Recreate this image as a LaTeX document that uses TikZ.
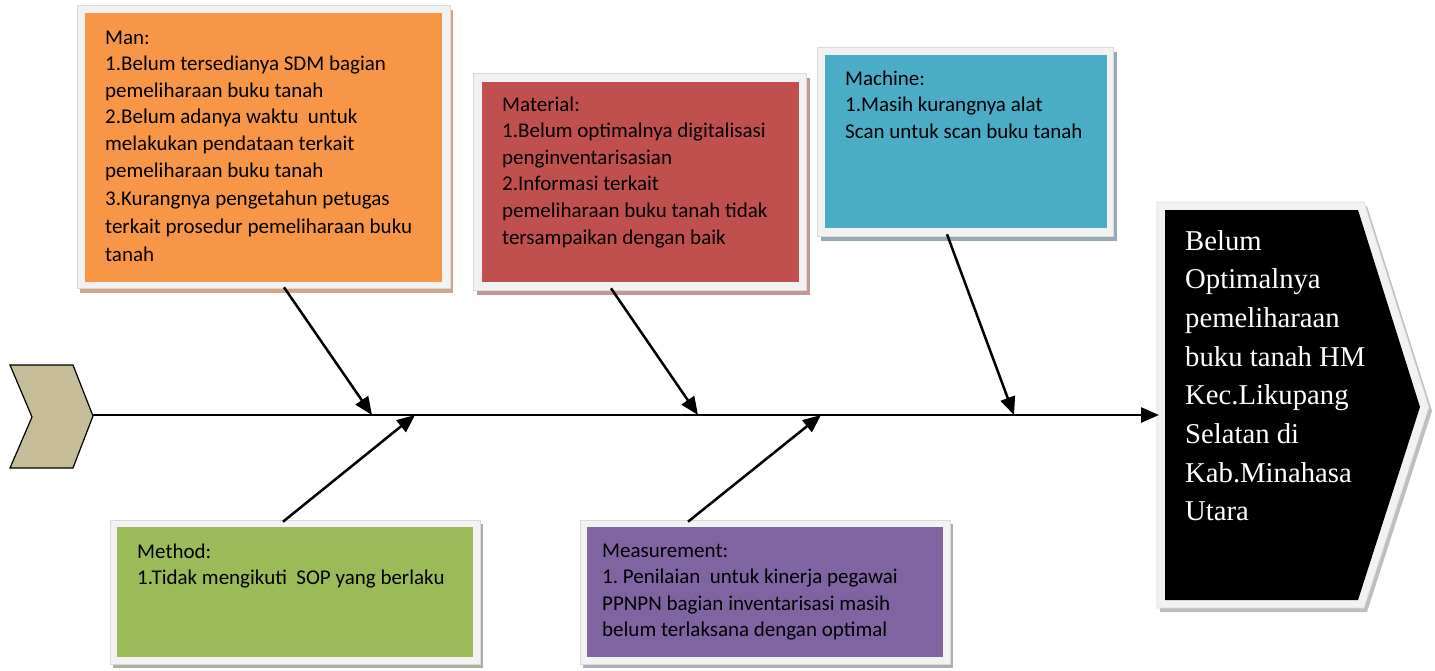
\documentclass[tikz,border=0pt]{standalone}
\usepackage{fontspec}
\usetikzlibrary{arrows.meta,shadows}
\newfontfamily\calibrifont{Carlito}
\newfontfamily\timesfont{Liberation Serif}
\frenchspacing
\definecolor{framegray}{HTML}{F2F2F2}
\definecolor{frameedge}{HTML}{DADADA}
\definecolor{manfill}{HTML}{F79646}
\definecolor{matfill}{HTML}{C0504D}
\definecolor{macfill}{HTML}{4BACC6}
\definecolor{metfill}{HTML}{9BBB59}
\definecolor{meafill}{HTML}{8064A2}
\definecolor{tailfill}{HTML}{C4BD97}
\definecolor{manshadow}{RGB}{212,166,136}
\definecolor{matshadow}{RGB}{192,152,152}
\definecolor{macshadow}{RGB}{148,170,182}
\definecolor{metshadow}{RGB}{172,176,160}
\definecolor{meashadow}{RGB}{176,172,182}
\definecolor{headshadow}{RGB}{190,190,190}
\tikzset{
  frame/.style={fill=framegray, draw=frameedge, line width=0.6pt, inner sep=0pt},
  inner/.style={inner sep=0pt, draw=none},
  txt/.style={anchor=base west, inner sep=0pt, font=\calibrifont\fontsize{21}{26.6}\selectfont},
  arr/.style={line width=2.5pt, -{Triangle[length=18pt,width=15pt]}},
}
\begin{document}
\begin{tikzpicture}[x=1pt,y=-1pt]
\useasboundingbox (0,0) rectangle (1435,670);

% tail
\draw[fill=tailfill, line width=1.2pt, line join=miter] (10,365) -- (73,365) -- (93,416) -- (73,468) -- (10,468) -- (32,417) -- cycle;
\coordinate (tail) at (93,415);

% head
\fill[headshadow] (1160,206) -- (1367,206) -- (1432,411) -- (1367,612) -- (1160,612) -- cycle;
\filldraw[fill=framegray, draw=frameedge, line width=0.6pt] (1157,202) -- (1364,202) -- (1429,407) -- (1364,608) -- (1157,608) -- cycle;
\fill[black] (1165,210) -- (1358,210) -- (1420,407) -- (1358,600) -- (1165,600) -- cycle;
\coordinate (headin) at (1159,415);
\node[anchor=base west, inner sep=0pt, text=white, font=\timesfont\fontsize{28.7}{38.7}\selectfont] (head) at (1185,250)
  {\parbox[t]{240pt}{\raggedright Belum\\ Optimalnya\\ pemeliharaan\\ buku tanah HM\\ Kec.Likupang\\ Selatan di\\ Kab.Minahasa\\ Utara}};

% Man
\node[frame, minimum width=373pt, minimum height=283pt, general shadow={fill=manshadow, shadow xshift=3pt, shadow yshift=-5pt}] (man) at (263.5,146.5) {};
\node[inner, fill=manfill, minimum width=357pt, minimum height=269pt] (manbox) at (263.5,147.5) {};
\node[txt] (mantext) at (105,44) {\parbox[t]{340pt}{\raggedright Man:\\ 1.Belum tersedianya SDM bagian\\ pemeliharaan buku tanah\\ 2.Belum adanya waktu~ untuk\\ melakukan pendataan terkait\\ pemeliharaan buku tanah\\[1.5pt] 3.Kurangnya pengetahun petugas\\[1.5pt] terkait prosedur pemeliharaan buku\\[1.5pt] tanah}};

% Material
\node[frame, minimum width=333pt, minimum height=217pt, general shadow={fill=matshadow, shadow xshift=4pt, shadow yshift=-5pt}] (mat) at (639.5,181.5) {};
\node[inner, fill=matfill, minimum width=317pt, minimum height=200pt] (matbox) at (640.5,182) {};
\node[txt] (mattext) at (502,111) {\parbox[t]{300pt}{\raggedright Material:\\ 1.Belum optimalnya digitalisasi\\ penginventarisasian\\ 2.Informasi terkait\\ pemeliharaan buku tanah tidak\\ tersampaikan dengan baik}};

% Machine
\node[frame, minimum width=296pt, minimum height=189pt, general shadow={fill=macshadow, shadow xshift=4pt, shadow yshift=-5pt}] (mac) at (965,141.5) {};
\node[inner, fill=macfill, minimum width=282pt, minimum height=173pt] (macbox) at (966,141.5) {};
\node[txt] (mactext) at (845,85) {\parbox[t]{270pt}{\raggedright Machine:\\ 1.Masih kurangnya alat\\ Scan untuk scan buku tanah}};

% Method
\node[frame, minimum width=370pt, minimum height=144pt, general shadow={fill=metshadow, shadow xshift=3pt, shadow yshift=-4pt}] (met) at (295,592) {};
\node[inner, fill=metfill, minimum width=356pt, minimum height=130pt] (metbox) at (295,592) {};
\node[txt] (mettext) at (137,558) {\parbox[t]{330pt}{\raggedright Method:\\ 1.Tidak mengikuti~ SOP yang berlaku}};

% Measurement
\node[frame, minimum width=370pt, minimum height=144pt, general shadow={fill=meashadow, shadow xshift=3pt, shadow yshift=-4pt}] (mea) at (765,592) {};
\node[inner, fill=meafill, minimum width=356pt, minimum height=130pt] (meabox) at (765,592) {};
\node[txt] (meatext) at (602,557) {\parbox[t]{340pt}{\raggedright Measurement:\\ 1. Penilaian~ untuk kinerja pegawai\\ PPNPN bagian inventarisasi masih\\ belum terlaksana dengan optimal}};

% spine points
\coordinate (p1) at (372,415);
\coordinate (p2) at (415,415);
\coordinate (p3) at (698,415);
\coordinate (p4) at (821,415);
\coordinate (p5) at (1014,415);

% spine
\draw[arr] (tail) -- (headin);

% branches
\draw[arr] ([xshift=20.5pt,yshift=1pt]man.south) -- (p1);
\draw[arr] ([xshift=-12pt,yshift=-2pt]met.north) -- (p2);
\draw[arr] ([xshift=-28.5pt,yshift=2pt]mat.south) -- (p3);
\draw[arr] ([xshift=-77pt,yshift=-2pt]mea.north) -- (p4);
\draw[arr] ([xshift=-18pt,yshift=2pt]mac.south) -- (p5);
\end{tikzpicture}
\end{document}
